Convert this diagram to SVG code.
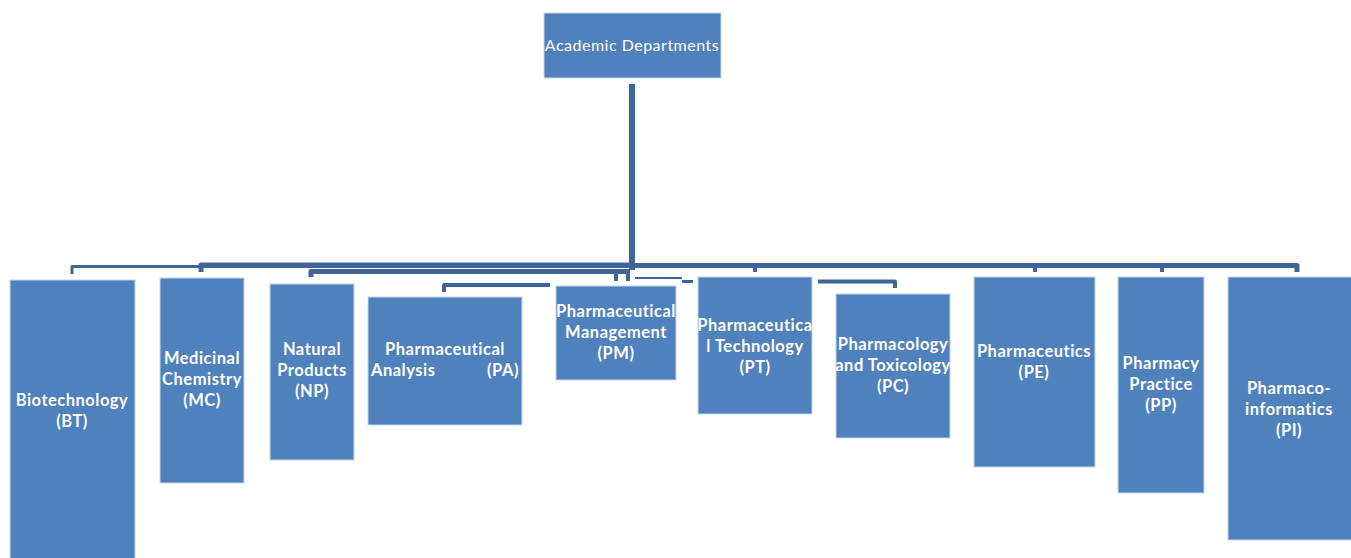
<svg xmlns="http://www.w3.org/2000/svg" width="1351" height="558" viewBox="0 0 1351 558">
<style>
.box{fill:#4F81BD;stroke:#C6D6EA;stroke-width:1}
.t{font-family:Lato,"Liberation Sans",sans-serif;font-weight:bold;font-size:16.5px;letter-spacing:0.5px;fill:#FFFFFF;text-anchor:middle}
.h{font-weight:normal;font-size:16px}
.c{fill:none;stroke:#3E6597;stroke-linejoin:round}
</style>
<rect width="1351" height="558" fill="#FFFFFF"/>
<g id="connectors">
<path class="c" stroke-width="6" d="M632 84V270"/>
<path class="c" stroke-width="3" d="M72 274V266.5H632"/>
<path class="c" stroke-width="5" d="M201 272V265H632"/>
<path class="c" stroke-width="5" d="M311 277V271.5H630"/>
<path class="c" stroke-width="5" d="M632 265.5H1297V272"/>
<path class="c" stroke-width="4" d="M755 265.5V272"/>
<path class="c" stroke-width="4" d="M1035 265.5V272"/>
<path class="c" stroke-width="4" d="M1162 265.5V272"/>
<path class="c" stroke-width="4" d="M444 292V285H550"/>
<path class="c" stroke-width="4" d="M616 272V281M628 272V281"/>
<path class="c" stroke-width="2" d="M635 278H682"/>
<path class="c" stroke-width="3" d="M682 281.5H693"/>
<path class="c" stroke-width="4" d="M818 281.5H895V288"/>
</g>
<g id="root"><rect class="box" x="544" y="13" width="177" height="65"/><text class="t h" x="632" y="51">Academic Departments</text></g>
<g id="bt"><rect class="box" x="10" y="280" width="125" height="290"/><text class="t" x="72" y="406">Biotechnology</text><text class="t" x="72" y="427">(BT)</text></g>
<g id="mc"><rect class="box" x="160" y="278" width="84" height="205"/><text class="t" x="202" y="364">Medicinal</text><text class="t" x="202" y="385">Chemistry</text><text class="t" x="202" y="406">(MC)</text></g>
<g id="np"><rect class="box" x="270" y="284" width="84" height="176"/><text class="t" x="312" y="355">Natural</text><text class="t" x="312" y="376">Products</text><text class="t" x="312" y="397">(NP)</text></g>
<g id="pa"><rect class="box" x="368" y="297" width="154" height="128"/><text class="t" x="445" y="355">Pharmaceutical</text><text class="t" x="371" y="376" style="text-anchor:start">Analysis</text><text class="t" x="519" y="376" style="text-anchor:end">(PA)</text></g>
<g id="pm"><rect class="box" x="556" y="286" width="120" height="94"/><text class="t" x="616" y="317">Pharmaceutical</text><text class="t" x="616" y="338">Management</text><text class="t" x="616" y="359">(PM)</text></g>
<g id="pt"><rect class="box" x="698" y="277" width="114" height="137"/><text class="t" x="755" y="331">Pharmaceutica</text><text class="t" x="755" y="352">l Technology</text><text class="t" x="755" y="373">(PT)</text></g>
<g id="pc"><rect class="box" x="836" y="294" width="114" height="144"/><text class="t" x="893" y="350">Pharmacology</text><text class="t" x="893" y="371">and Toxicology</text><text class="t" x="893" y="392">(PC)</text></g>
<g id="pe"><rect class="box" x="974" y="277" width="121" height="190"/><text class="t" x="1034" y="357">Pharmaceutics</text><text class="t" x="1034" y="378">(PE)</text></g>
<g id="pp"><rect class="box" x="1118" y="277" width="86" height="216"/><text class="t" x="1161" y="369">Pharmacy</text><text class="t" x="1161" y="390">Practice</text><text class="t" x="1161" y="411">(PP)</text></g>
<g id="pi"><rect class="box" x="1228" y="277" width="130" height="263"/><text class="t" x="1289" y="394">Pharmaco-</text><text class="t" x="1289" y="415">informatics</text><text class="t" x="1289" y="436">(PI)</text></g>
</svg>
